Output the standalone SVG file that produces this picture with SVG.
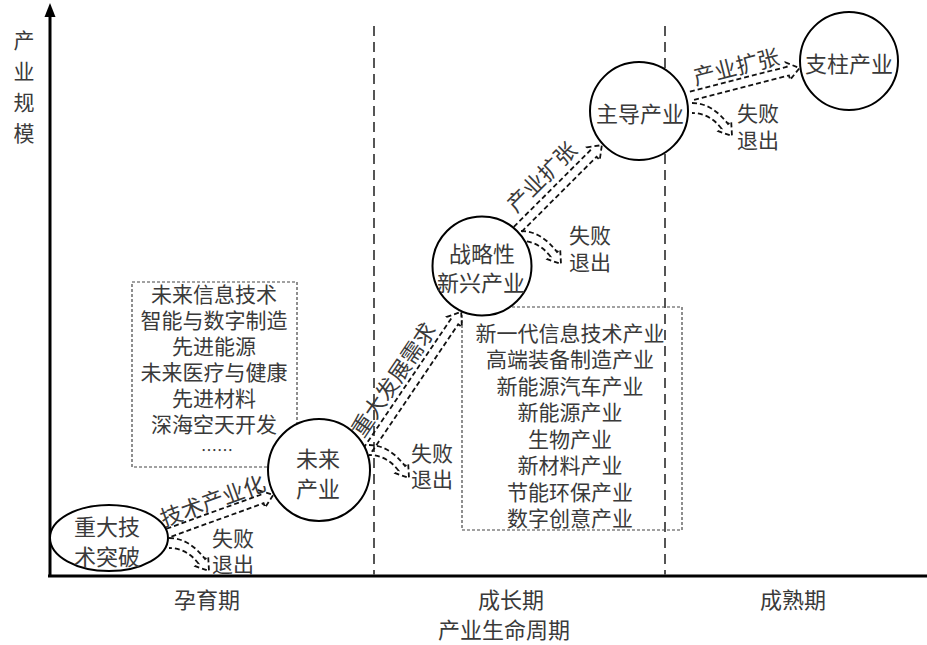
<svg xmlns="http://www.w3.org/2000/svg" width="927" height="645" viewBox="0 0 927 645">
<defs>
<style>
.t{font-family:"Noto Sans CJK SC","Noto Sans CJK JP",sans-serif;font-size:22px;fill:#3a3a3a;text-anchor:middle;dominant-baseline:central}
.s{font-size:21px}
.l{font-size:21px}
.node{fill:#fff;stroke:#000;stroke-width:2}
.box{fill:none;stroke:#444;stroke-width:1.2;stroke-dasharray:3 2}
.div{fill:none;stroke:#555;stroke-width:2;stroke-dasharray:10 6}
.arr{fill:none;stroke:#111;stroke-width:1.8;stroke-dasharray:5 3;stroke-linejoin:miter}
.axis{fill:none;stroke:#000;stroke-width:3}
</style>
<path id="fail" d="M0,-5 Q20,-5 36,16 L39.2,13.6 L40,28 L26.4,23.2 L29.6,20.8 Q17.75,5 0,5"/>
</defs>
<rect width="927" height="645" fill="#fff"/>

<g id="axes">
<line class="axis" x1="50" y1="577" x2="50" y2="14"/>
<polygon points="50,3 44.5,17 55.5,17" fill="#000"/>
<line class="axis" x1="48" y1="576" x2="927" y2="576"/>
<line class="div" x1="374" y1="26" x2="374" y2="575"/>
<line class="div" x1="665" y1="26" x2="665" y2="575"/>
<text class="t s" x="24" y="39">产</text>
<text class="t s" x="24" y="70">业</text>
<text class="t s" x="24" y="101">规</text>
<text class="t s" x="24" y="132">模</text>
<text class="t" x="207" y="598">孕育期</text>
<text class="t" x="511" y="598">成长期</text>
<text class="t" x="793" y="598">成熟期</text>
<text class="t" x="504" y="628">产业生命周期</text>
</g>

<g id="box-future">
<rect class="box" x="132" y="282" width="165" height="185"/>
<text class="t l" x="214" y="293">未来信息技术</text>
<text class="t l" x="214" y="319">智能与数字制造</text>
<text class="t l" x="214" y="345">先进能源</text>
<text class="t l" x="214" y="371">未来医疗与健康</text>
<text class="t l" x="214" y="397">先进材料</text>
<text class="t l" x="214" y="423">深海空天开发</text>
<text class="t" x="217" y="449" style="font-size:16px">……</text>
</g>

<g id="box-emerging">
<rect class="box" x="462" y="307" width="220" height="223"/>
<text class="t l" x="570" y="332">新一代信息技术产业</text>
<text class="t l" x="570" y="358">高端装备制造产业</text>
<text class="t l" x="570" y="385">新能源汽车产业</text>
<text class="t l" x="570" y="411">新能源产业</text>
<text class="t l" x="570" y="438">生物产业</text>
<text class="t l" x="570" y="464">新材料产业</text>
<text class="t l" x="570" y="491">节能环保产业</text>
<text class="t l" x="570" y="517">数字创意产业</text>
</g>

<g id="connectors">
<g transform="translate(168,533) rotate(-19.9)">
<path class="arr" d="M0,-4.5 H100 V-9 L112,0 L100,9 V4.5 H0"/>
<text class="t" x="53" y="-17">技术产业化</text>
</g>
<g transform="translate(367,451) rotate(-55.9)">
<path class="arr" d="M0,-4.5 H156 V-9 L168,0 L156,9 V4.5 H0"/>
<text class="t" x="74" y="-20">重大发展需求</text>
</g>
<g transform="translate(517,230) rotate(-45)">
<path class="arr" d="M0,-4.5 H108 V-9 L120,0 L108,9 V4.5 H0"/>
<text class="t" x="55" y="-22">产业扩张</text>
</g>
<g transform="translate(691,96) rotate(-14.4)">
<path class="arr" d="M0,-4.5 H100 V-9 L112,0 L100,9 V4.5 H0"/>
<text class="t" x="51" y="-19">产业扩张</text>
</g>
<use href="#fail" class="arr" transform="translate(169,543)"/>
<use href="#fail" class="arr" transform="translate(369,450)"/>
<use href="#fail" class="arr" transform="translate(521,236)"/>
<use href="#fail" class="arr" transform="translate(692,108)"/>
<text class="t s" x="233" y="537">失败</text>
<text class="t s" x="233" y="563">退出</text>
<text class="t s" x="432" y="452">失败</text>
<text class="t s" x="432" y="478">退出</text>
<text class="t s" x="590" y="234">失败</text>
<text class="t s" x="590" y="261">退出</text>
<text class="t s" x="758" y="112">失败</text>
<text class="t s" x="758" y="139">退出</text>
</g>

<g id="node-breakthrough">
<ellipse class="node" cx="109" cy="538" rx="59" ry="33"/>
<text class="t" x="107" y="525">重大技</text>
<text class="t" x="107" y="555">术突破</text>
</g>
<g id="node-future">
<circle class="node" cx="319" cy="470" r="51"/>
<text class="t" x="318" y="457">未来</text>
<text class="t" x="318" y="487">产业</text>
</g>
<g id="node-emerging">
<circle class="node" cx="482" cy="266" r="49.5"/>
<text class="t" x="482" y="252">战略性</text>
<text class="t" x="481" y="281">新兴产业</text>
</g>
<g id="node-leading">
<circle class="node" cx="639" cy="111" r="49"/>
<text class="t" x="640" y="112">主导产业</text>
</g>
<g id="node-pillar">
<circle class="node" cx="849" cy="61" r="49"/>
<text class="t" x="849" y="62">支柱产业</text>
</g>
</svg>
